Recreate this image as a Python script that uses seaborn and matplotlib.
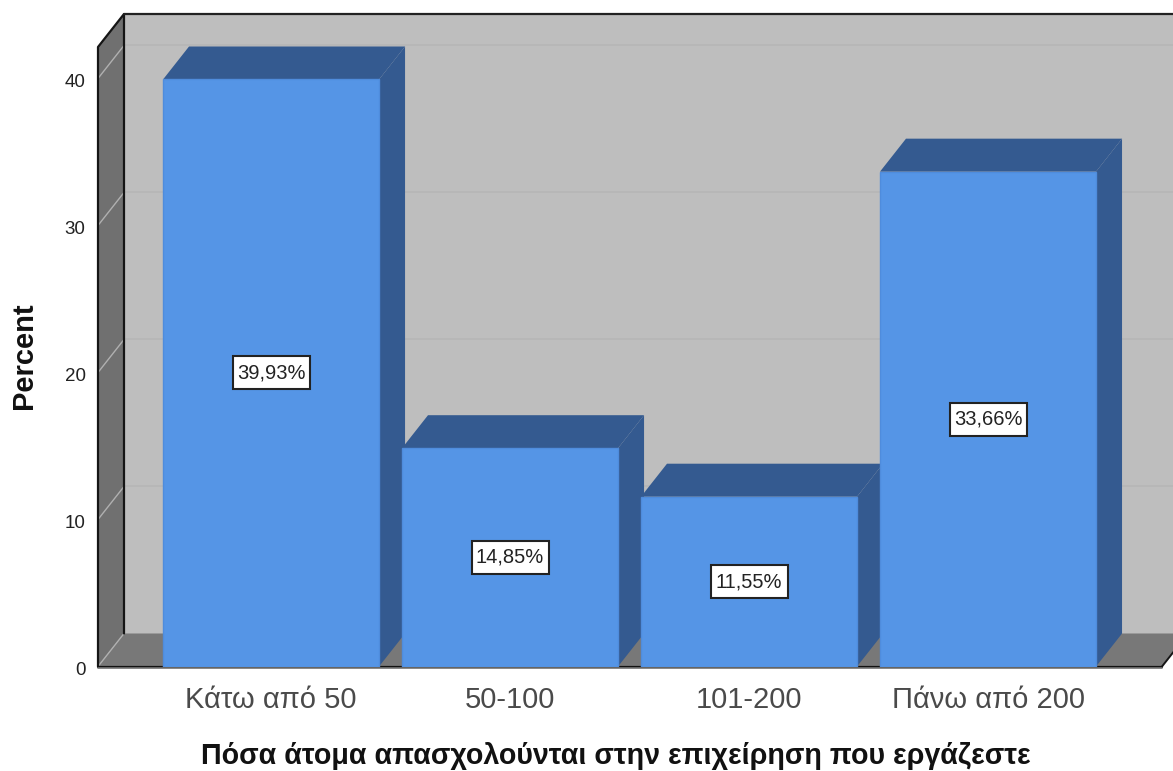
import matplotlib
matplotlib.use("Agg")
import matplotlib.pyplot as plt
from matplotlib.patches import Polygon, Rectangle
from matplotlib.transforms import ScaledTranslation
import seaborn as sns

categories = ["Κάτω από 50", "50-100", "101-200", "Πάνω από 200"]
percent = [39.93, 14.85, 11.55, 33.66]
percent_labels = ["39,93%", "14,85%", "11,55%", "33,66%"]
y_ticks = [0, 10, 20, 30, 40]

W, H = 1173, 771
FACE, SHADE = "#5595e6", "#345a90"
WALL, SIDE, FLOOR = "#bebebe", "#707070", "#787878"

sns.set_theme(style="white")
plt.rcParams["font.family"] = ["Liberation Sans", "DejaVu Sans"]

fig = plt.figure(figsize=(W / 100, H / 100), dpi=100)
ax = fig.add_axes([98 / W, (H - 666.5) / H, (1162 - 98) / W, (666.5 - 47) / H])

sns.barplot(x=categories, y=percent, color=FACE, saturation=1, width=0.904,
            edgecolor="#4f8cdc", linewidth=1, ax=ax, zorder=4)
ax.set_xlim(-0.724, 3.728)
ax.set_ylim(0, 42.14)

# depth of the fake 3D box, in data units
x_per_px = (ax.get_xlim()[1] - ax.get_xlim()[0]) / (ax.get_position().width * W)
y_per_px = ax.get_ylim()[1] / (ax.get_position().height * H)
dx, dy = 26 * x_per_px, 33 * y_per_px
x0, x1 = ax.get_xlim()
top = ax.get_ylim()[1]


def poly(points, color, zorder=1):
    ax.add_patch(Polygon(points, closed=True, facecolor=color, edgecolor="none", zorder=zorder, clip_on=False))


# walls and floor
poly([(x0 + dx, dy), (x1 + dx, dy), (x1 + dx, top + dy), (x0 + dx, top + dy)], WALL)
poly([(x0, 0), (x0 + dx, dy), (x0 + dx, top + dy), (x0, top)], SIDE)
poly([(x0, 0), (x1, 0), (x1 + dx, dy), (x0 + dx, dy)], FLOOR)

for t in y_ticks:
    ax.plot([x0, x0 + dx], [t, t + dy], color="#b0b0b0", lw=1, zorder=1.5, clip_on=False)
    if t > 0:
        ax.plot([x0 + dx, x1 + dx], [t + dy, t + dy], color="#b6b6b6", lw=1.1, zorder=1.5, clip_on=False)

# box outline
ax.plot([x0, x0, x0 + dx, x0 + dx], [0, top, top + dy, dy], color="#151515", lw=1.6, zorder=2, clip_on=False)
ax.plot([x0 + dx, x1 + dx], [top + dy, top + dy], color="#222222", lw=1.6, zorder=2, clip_on=False)
ax.plot([x1, x1 + dx], [0, dy], color="#151515", lw=1.4, zorder=2, clip_on=False)
ax.plot([x0, x1], [0, 0], color="#111111", lw=1.6, zorder=2, clip_on=False)

# bar sides and tops, built from the bars seaborn drew
box_w, box_h = 77 * x_per_px, 33 * y_per_px
for i, bar in enumerate(ax.patches[:len(percent)]):
    left, right, h = bar.get_x(), bar.get_x() + bar.get_width(), bar.get_height()
    poly([(right, 0), (right + dx, dy), (right + dx, h + dy), (right, h)], SHADE, zorder=3)
    poly([(left, h), (right, h), (right + dx, h + dy), (left + dx, h + dy)], SHADE, zorder=3)
    ax.add_patch(Rectangle((i - box_w / 2, h / 2 - box_h / 2), box_w, box_h, facecolor="white",
                           edgecolor="#222222", linewidth=1.5, zorder=6))
    ax.text(i, h / 2, percent_labels[i], ha="center", va="center", fontsize=14.5,
            color="#222222", zorder=7)

ax.plot([x0, x1], [-0.07, -0.07], color="#777777", lw=1.2, zorder=5, clip_on=False)

sns.despine(ax=ax, left=True, bottom=True)
ax.set_yticks(y_ticks)
ax.tick_params(axis="y", length=0, pad=9, labelsize=13.5, labelcolor="#222222")
ax.tick_params(axis="x", length=0, pad=14, labelsize=21, labelcolor="#4a4a4a")
for label in ax.get_yticklabels():
    label.set_transform(label.get_transform() + ScaledTranslation(0, -2 / 100, fig.dpi_scale_trans))

fig.text(24 / W, 1 - 356 / H, "Percent", rotation=90, ha="center", va="center",
         fontsize=21, fontweight="bold", color="#111111")
fig.text(616 / W, 1 - 756 / H, "Πόσα άτομα απασχολούνται στην επιχείρηση που εργάζεστε",
         ha="center", va="center", fontsize=20.6, fontweight="bold", color="#111111")

fig.savefig("out.png", dpi=100)
